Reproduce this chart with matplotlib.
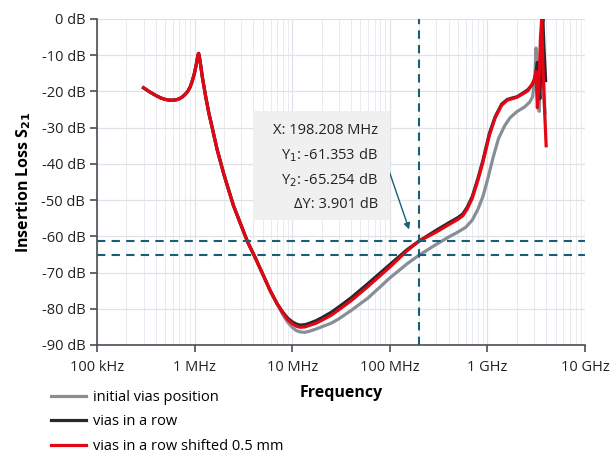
import matplotlib.pyplot as plt
from matplotlib.patches import Rectangle
import numpy as np

plt.rcParams['font.family'] = ['Open Sans', 'DejaVu Sans']

# frequency in MHz, insertion loss in dB
f_low = [0.3, 0.35, 0.4, 0.45, 0.5, 0.55, 0.6, 0.65, 0.7, 0.75, 0.8, 0.85, 0.9, 0.95, 1.0, 1.05, 1.08,
         1.1, 1.12, 1.15, 1.2, 1.3, 1.4, 1.5, 1.7, 2.0, 2.5, 3.0, 3.5, 4.2, 5.0, 6.0, 7.0]
s_low = [-19.0, -20.2, -21.1, -21.8, -22.2, -22.4, -22.4, -22.3, -22.0, -21.5, -20.8, -20.0, -18.8,
         -17.0, -14.8, -12.0, -10.0, -9.5, -10.5, -12.5, -16.0, -21.5, -26.0, -29.5, -36.0, -43.0,
         -51.5, -57.0, -61.6, -66.0, -70.5, -75.2, -78.6]

f_init = f_low + [8, 9, 10, 11, 12, 13.5, 15, 17.5, 20, 25, 30, 40, 60, 100, 150, 198.208, 300, 400, 500,
                  600, 700, 800, 900, 1000, 1150, 1300, 1500, 1700, 2000, 2400, 2700, 2900, 3050, 3150,
                  3250, 3400, 3500, 3650, 3800, 3900]
s_init = s_low + [-81.6, -83.7, -85.1, -86.0, -86.4, -86.5, -86.2, -85.6, -85.0, -84.0, -82.8, -80.5,
                  -77.0, -71.5, -67.6, -65.254, -62.2, -60.2, -58.8, -57.5, -55.5, -52.5, -49.0, -44.5,
                  -38.0, -33.0, -29.5, -27.3, -25.6, -24.3, -23.0, -21.5, -17.0, -8.0, -22.0, -25.5,
                  -12.0, -3.0, -22.0, -26.0]

f_row = f_low + [8, 9, 10, 11, 12, 13.5, 15, 17.5, 20, 25, 30, 40, 60, 100, 150, 198.208, 300, 400, 500,
                 560, 620, 700, 800, 900, 1050, 1200, 1400, 1600, 1800, 2000, 2300, 2600, 2900, 3100,
                 3250, 3350, 3450, 3600, 3700, 3800, 3950]
s_row = s_low + [-80.9, -82.6, -83.6, -84.2, -84.5, -84.4, -84.0, -83.3, -82.5, -81.0, -79.5, -77.0,
                 -73.0, -67.8, -63.7, -61.353, -58.3, -56.3, -54.8, -53.8, -52.0, -49.0, -44.0, -39.0,
                 -31.5, -27.0, -23.5, -22.2, -21.8, -21.5, -20.5, -19.5, -18.0, -16.0, -12.0, -18.0,
                 -22.0, -3.0, 0.0, -8.0, -17.0]

f_shift = f_low + [8, 9, 10, 11, 12, 13.5, 15, 17.5, 20, 25, 30, 40, 60, 100, 150, 198.208, 300, 400,
                   500, 560, 620, 700, 800, 900, 1050, 1200, 1400, 1600, 1800, 2000, 2300, 2600, 2800,
                   3000, 3150, 3250, 3350, 3500, 3600, 3700, 3850, 4000]
s_shift = s_low + [-81.1, -83.0, -84.1, -84.8, -85.1, -85.0, -84.6, -84.0, -83.2, -81.8, -80.3, -77.8,
                   -73.8, -68.5, -64.0, -61.353, -58.8, -56.8, -55.3, -54.3, -52.5, -49.5, -44.5,
                   -39.5, -32.0, -27.3, -23.8, -22.4, -22.0, -21.6, -20.7, -19.8, -18.5, -17.0, -14.5,
                   -24.5, -20.0, -5.0, 0.0, -12.0, -25.0, -35.0]

labels = ['initial vias position', 'vias in a row', 'vias in a row shifted 0.5 mm']
colors = ['#868e96', '#23292f', '#e30613']

marker_f = 198.208
marker_y1 = -61.353
marker_y2 = -65.254

xticks = [1e5, 1e6, 1e7, 1e8, 1e9, 1e10]
xticklabels = ['100 kHz', '1 MHz', '10 MHz', '100 MHz', '1 GHz', '10 GHz']
yticks = list(range(0, -91, -10))

fig = plt.figure(figsize=(6.12, 4.55), dpi=100)
ax = fig.add_axes([97/612, 1-345/455, 488/612, 326/455])

for f, s, lab, c in zip([f_init, f_row, f_shift], [s_init, s_row, s_shift], labels, colors):
    ax.plot(np.array(f)*1e6, s, color=c, lw=2.3, label=lab, solid_joinstyle='round')

teal = '#1a5d77'
ax.axhline(marker_y1, color=teal, lw=1.5, ls=(0, (4, 3)))
ax.axhline(marker_y2, color=teal, lw=1.5, ls=(0, (4, 3)))
ax.axvline(marker_f*1e6, color=teal, lw=1.5, ls=(0, (4, 3)))

ax.set_xscale('log')
ax.set_xlim(1e5, 1e10)
ax.set_ylim(-90, 0)
ax.set_xticks(xticks)
ax.set_xticklabels(xticklabels)
ax.set_yticks(yticks)
ax.set_yticklabels([f'{v} dB' for v in yticks])
ax.grid(which='major', color='#dfe3e8', lw=0.9)
ax.grid(which='minor', axis='x', color='#e8ebef', lw=0.7)
ax.set_axisbelow(True)
for s in ['top', 'right']:
    ax.spines[s].set_visible(False)
for s in ['left', 'bottom']:
    ax.spines[s].set_color('#4a4f55')
    ax.spines[s].set_linewidth(1.2)
ax.tick_params(which='major', length=5, width=1.2, color='#4a4f55', labelsize=10.5, labelcolor='#222')
ax.tick_params(which='minor', length=0)
ax.tick_params(axis='x', pad=6)

ax.set_xlabel('Frequency', fontsize=11.5, fontweight='bold', labelpad=7)
ax.set_ylabel('Insertion Loss S$_\\mathbf{21}$', fontsize=11.5, fontweight='bold', labelpad=6)

# marker info box
fig.patches.append(Rectangle((253/612, 1-220/455), 137/612, 109/455, transform=fig.transFigure,
                             facecolor='#f0f0f0', edgecolor='none', zorder=3))
info = [f'X: {marker_f} MHz', f'Y$_1$: {marker_y1} dB', f'Y$_2$: {marker_y2} dB', f'ΔY: {marker_y1 - marker_y2:.3f} dB']
for i, t in enumerate(info):
    fig.text(378/612, 1-(131 + 24.5*i)/455, t, ha='right', va='center', fontsize=10.5, color='#222', zorder=4)
ax.annotate('', xy=(410/612, 1-232/455), xytext=(387/612, 1-165/455),
            xycoords='figure fraction', textcoords='figure fraction',
            arrowprops=dict(arrowstyle='-|>', color=teal, lw=1.0, mutation_scale=9))

fig.legend(loc='upper left', bbox_to_anchor=(45/612, 1-384/455), frameon=False, fontsize=10.5,
           handlelength=2.4, labelspacing=0.66, handletextpad=0.5, borderaxespad=0)

fig.savefig('out.png', dpi=100)
